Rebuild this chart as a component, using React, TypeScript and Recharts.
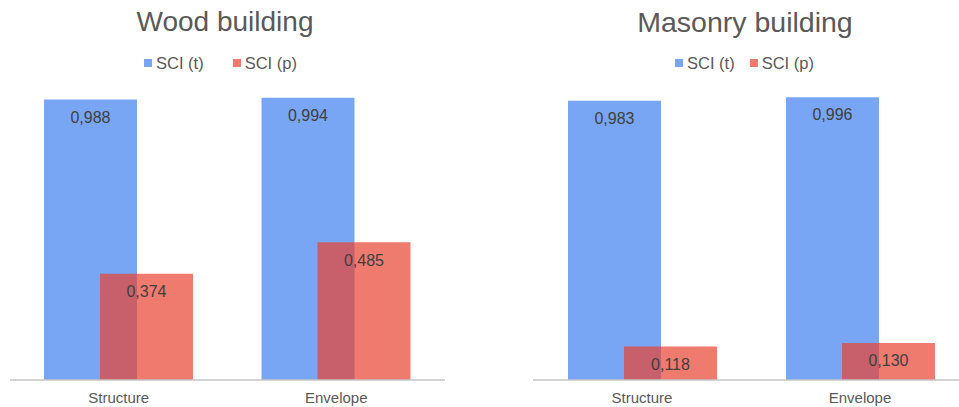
import { Bar, BarChart, LabelList, XAxis, YAxis } from 'recharts';

const categories = ['Structure', 'Envelope'];
const woodSciT = [0.988, 0.994];
const woodSciP = [0.374, 0.485];
const masonrySciT = [0.983, 0.996];
const masonrySciP = [0.118, 0.13];
const seriesNames = ['SCI (t)', 'SCI (p)'];

const BLUE = '#78a6f4';
const RED = '#e84433';
const RED_OPACITY = 0.71;
const TEXT = '#595959';
const FONT = '"Liberation Sans", Arial, sans-serif';

const buildRows = (t: number[], p: number[]) =>
  categories.map((name, i) => ({ name, t: t[i], p: p[i] }));

const fmt = (v: any) => Number(v).toFixed(3).replace('.', ',');

function PanelLegend({ left, gap }: { left: number; gap: number }) {
  const colors = [BLUE, RED];
  const opac = [1, RED_OPACITY];
  return (
    <div
      style={{
        position: 'absolute',
        left,
        top: 54.5,
        display: 'flex',
        gap,
        fontFamily: FONT,
        fontSize: 16.5,
        lineHeight: '16px',
        color: TEXT,
      }}
    >
      {seriesNames.map((s, i) => (
        <div key={s} style={{ display: 'flex', alignItems: 'center', gap: 4 }}>
          <span
            style={{ width: 8, height: 8, background: colors[i], opacity: opac[i], display: 'inline-block' }}
          />
          <span>{s}</span>
        </div>
      ))}
    </div>
  );
}

function Panel({
  rows,
  width,
  marginLeft,
  marginRight,
}: {
  rows: { name: string; t: number; p: number }[];
  width: number;
  marginLeft: number;
  marginRight: number;
}) {
  return (
    <BarChart
      width={width}
      height={407}
      data={rows}
      margin={{ top: 96, right: marginRight, bottom: 0, left: marginLeft }}
      barSize={93}
      barGap={-37}
      style={{ fontFamily: FONT }}
    >
      <XAxis
        dataKey="name"
        height={27}
        tickLine={false}
        tickMargin={6}
        axisLine={{ stroke: '#c4c4c4', strokeWidth: 1.5 }}
        tick={{ fontSize: 15, fill: TEXT }}
      />
      <YAxis hide domain={[0, 1]} />
      <Bar dataKey="t" fill={BLUE} isAnimationActive={false}>
        <LabelList dataKey="t" position="insideTop" offset={12} formatter={fmt} fill="#404040" fontSize={16} />
      </Bar>
      <Bar dataKey="p" fill={RED} fillOpacity={RED_OPACITY} isAnimationActive={false}>
        <LabelList dataKey="p" position="insideTop" offset={12} formatter={fmt} fill="#404040" fontSize={16} />
      </Bar>
    </BarChart>
  );
}

const titleStyle = (center: number, size: number): React.CSSProperties => ({
  position: 'absolute',
  left: center - 200,
  width: 400,
  top: 8,
  textAlign: 'center',
  fontFamily: FONT,
  fontSize: size,
  lineHeight: '28px',
  color: TEXT,
});

export default function App() {
  return (
    <div
      style={{
        position: 'absolute',
        left: 0,
        top: 0,
        width: 959,
        height: 407,
        overflow: 'hidden',
        background: '#fff',
      }}
    >
      <div style={{ position: 'absolute', left: 0, top: 0 }}>
        <Panel rows={buildRows(woodSciT, woodSciP)} width={480} marginLeft={10} marginRight={35} />
      </div>
      <div style={{ position: 'absolute', left: 480, top: 0 }}>
        <Panel rows={buildRows(masonrySciT, masonrySciP)} width={490} marginLeft={53} marginRight={1} />
      </div>
      <div style={titleStyle(225, 28)}>Wood building</div>
      <div style={titleStyle(745, 28.5)}>Masonry building</div>
      <PanelLegend left={144} gap={29} />
      <PanelLegend left={675} gap={15} />
    </div>
  );
}
